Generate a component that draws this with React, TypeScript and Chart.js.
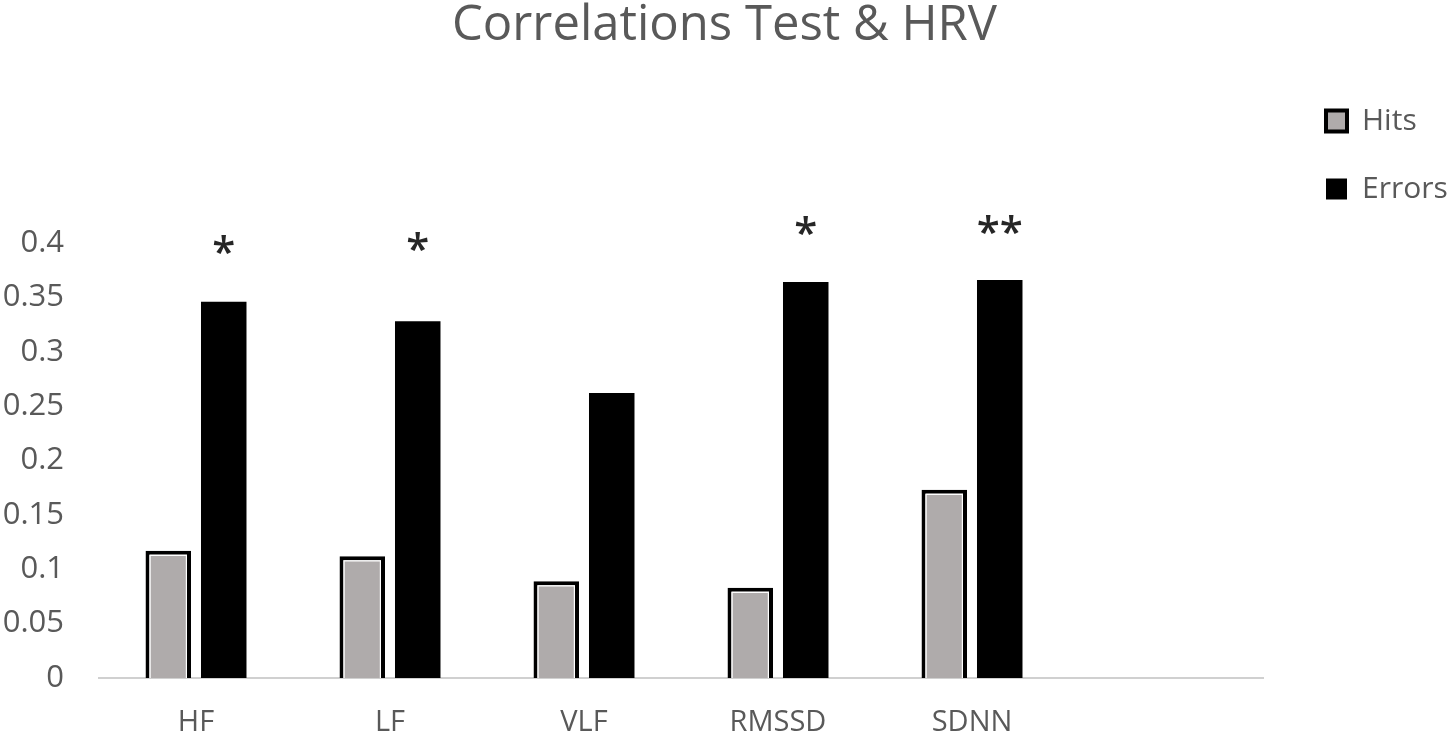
import React, { useEffect, useRef } from "react";
import { Chart, registerables } from "chart.js";

Chart.register(...registerables);

const categories = ["HF", "LF", "VLF", "RMSSD", "SDNN", ""];
const hitsValues = [0.117, 0.112, 0.089, 0.083, 0.173, null];
const errorsValues = [0.346, 0.328, 0.262, 0.364, 0.366, null];
const significanceMarks = ["*", "*", "", "*", "**", ""];
const significanceLevels = [0.4, 0.403, null, 0.418, 0.419, null];
const yTickValues = [0, 0.05, 0.1, 0.15, 0.2, 0.25, 0.3, 0.35, 0.4];

const TEXT = "#595959";
const FONT = "'Open Sans', 'Noto Sans', sans-serif";

const hitsInnerLine = {
  id: "hitsInnerLine",
  afterDatasetsDraw(chart: any) {
    const meta = chart.getDatasetMeta(0);
    const ctx = chart.ctx;
    const bw = 4;
    ctx.save();
    ctx.strokeStyle = "#ffffff";
    ctx.lineWidth = 1.2;
    meta.data.forEach((el: any, i: number) => {
      if (hitsValues[i] == null) return;
      const p = el.getProps(["x", "y", "base", "width"], true);
      const l = p.x - p.width / 2 + bw + 0.6;
      const r = p.x + p.width / 2 - bw - 0.6;
      const t = p.y + bw + 0.6;
      ctx.beginPath();
      ctx.moveTo(l, p.base);
      ctx.lineTo(l, t);
      ctx.lineTo(r, t);
      ctx.lineTo(r, p.base);
      ctx.stroke();
    });
    ctx.restore();
  },
};

const significancePlugin = {
  id: "significance",
  afterDatasetsDraw(chart: any) {
    const meta = chart.getDatasetMeta(1);
    const y = chart.scales.y;
    const ctx = chart.ctx;
    const size = 42;
    ctx.save();
    ctx.fillStyle = "#262626";
    ctx.font = `600 ${size}px ${FONT}`;
    ctx.textAlign = "center";
    ctx.textBaseline = "alphabetic";
    meta.data.forEach((el: any, i: number) => {
      const mark = significanceMarks[i];
      const lvl = significanceLevels[i];
      if (!mark || lvl == null) return;
      const cy = y.getPixelForValue(lvl);
      ctx.fillText(mark, el.x, cy + size * 0.56);
    });
    ctx.restore();
  },
};

const LEGEND_WIDTH = 186;

const legendPlacement = {
  id: "legendPlacement",
  afterInit(chart: any) {
    const lg = chart.legend;
    if (!lg || lg.__patched) return;
    const orig = lg.fit.bind(lg);
    lg.fit = function () {
      orig();
      this.width = LEGEND_WIDTH;
    };
    lg.__patched = true;
  },
  afterLayout(chart: any) {
    const lg = chart.legend;
    if (!lg) return;
    const left = chart.chartArea.right + 25;
    const top = 68;
    const w = lg.width;
    const h = lg.height;
    lg.left = left;
    lg.right = left + w;
    lg.top = top;
    lg.bottom = top + h;
  },
};

export default function App() {
  const ref = useRef<HTMLCanvasElement | null>(null);

  useEffect(() => {
    if (!ref.current) return;
    const chart = new Chart(ref.current, {
      type: "bar",
      data: {
        labels: categories,
        datasets: [
          {
            label: "Hits",
            data: hitsValues,
            backgroundColor: "#afabab",
            borderColor: "#000000",
            borderWidth: 4,
            borderSkipped: "start",
            categoryPercentage: 0.572,
            barPercentage: 0.82,
          },
          {
            label: "Errors",
            data: errorsValues,
            backgroundColor: "#000000",
            borderColor: "#000000",
            borderWidth: 0,
            categoryPercentage: 0.572,
            barPercentage: 0.82,
          },
        ],
      },
      options: {
        animation: false,
        responsive: true,
        maintainAspectRatio: false,
        layout: { padding: { left: 0, right: 0, top: 0, bottom: 0 } },
        plugins: {
          title: {
            display: true,
            text: "Correlations Test & HRV",
            color: TEXT,
            font: { family: FONT, size: 49, weight: "normal", lineHeight: 1.08 },
            padding: { top: 0, bottom: 190 },
          },
          legend: {
            display: true,
            position: "right",
            align: "start",
            fullSize: false,
            labels: {
              color: TEXT,
              font: { family: FONT, size: 30 },
              boxWidth: 21,
              boxHeight: 21,
              padding: 38,
            },
          },
          tooltip: { enabled: false },
        },
        scales: {
          x: {
            grid: { display: false, drawTicks: false },
            border: { display: true, color: "#d0d0d0", width: 2 },
            afterFit: (s: any) => {
              s.height = 62;
            },
            ticks: {
              color: TEXT,
              font: { family: FONT, size: 29 },
              padding: 27,
              maxRotation: 0,
              autoSkip: false,
            },
          },
          y: {
            min: 0,
            max: 0.4,
            grid: { display: false, drawTicks: false },
            border: { display: false },
            afterFit: (s: any) => {
              s.width = 99;
            },
            afterBuildTicks: (s: any) => {
              s.ticks = yTickValues.map((v) => ({ value: v }));
            },
            ticks: {
              color: TEXT,
              font: { family: FONT, size: 31 },
              padding: 35,
              callback: (v: any) => String(Number(Number(v).toFixed(2))),
            },
          },
        },
      },
      plugins: [hitsInnerLine, significancePlugin, legendPlacement],
    });
    return () => chart.destroy();
  }, []);

  return (
    <div
      style={{
        position: "fixed",
        left: 0,
        top: 0,
        width: 1449,
        height: 740,
        overflow: "hidden",
        background: "#ffffff",
      }}
    >
      <div style={{ position: "relative", width: 1449, height: 740 }}>
        <canvas ref={ref} />
      </div>
    </div>
  );
}
